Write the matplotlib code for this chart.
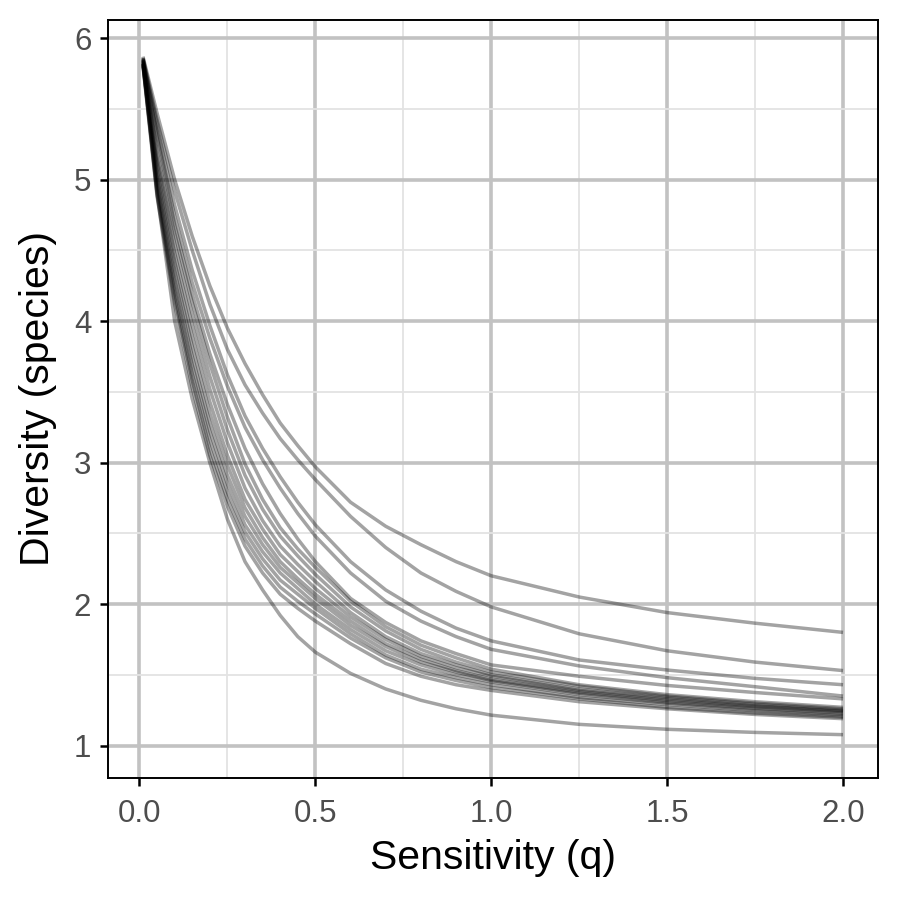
import numpy as np
import matplotlib
matplotlib.use("Agg")
import matplotlib.pyplot as plt
from matplotlib.ticker import MultipleLocator

plt.rcParams['font.family'] = ['Liberation Sans', 'DejaVu Sans']

q = [0.01, 0.05, 0.1, 0.15, 0.2, 0.25, 0.3, 0.35, 0.4, 0.45, 0.5, 0.6, 0.7, 0.8, 0.9, 1.0, 1.25, 1.5, 1.75, 2.0]

# diversity profiles, one per sample
site_a = [5.87, 5.47, 5.00, 4.60, 4.25, 3.95, 3.70, 3.48, 3.28, 3.12, 2.97, 2.72, 2.55, 2.42, 2.30, 2.20, 2.05, 1.94, 1.865, 1.80]
site_b = [5.86, 5.42, 4.92, 4.50, 4.12, 3.80, 3.55, 3.35, 3.17, 3.02, 2.88, 2.62, 2.40, 2.22, 2.09, 1.98, 1.79, 1.67, 1.59, 1.53]
site_c = [5.86, 5.38, 4.82, 4.36, 3.97, 3.62, 3.33, 3.10, 2.90, 2.72, 2.56, 2.30, 2.10, 1.95, 1.83, 1.74, 1.605, 1.534, 1.475, 1.43]
site_d = [5.85, 5.33, 4.74, 4.27, 3.88, 3.54, 3.25, 3.02, 2.82, 2.64, 2.48, 2.22, 2.02, 1.88, 1.77, 1.68, 1.563, 1.48, 1.416, 1.35]
site_e = [5.85, 5.30, 4.68, 4.19, 3.77, 3.41, 3.10, 2.85, 2.64, 2.46, 2.30, 2.04, 1.87, 1.74, 1.65, 1.57, 1.49, 1.425, 1.375, 1.33]
site_f = [5.82, 4.90, 4.00, 3.45, 3.00, 2.60, 2.30, 2.10, 1.92, 1.77, 1.66, 1.51, 1.40, 1.32, 1.26, 1.215, 1.15, 1.115, 1.093, 1.077]
site_g = [5.85, 5.20, 4.62, 4.13, 3.70, 3.32, 2.99, 2.74, 2.54, 2.39, 2.26, 2.02, 1.84, 1.71, 1.62, 1.54, 1.43, 1.36, 1.31, 1.27]
site_h = [5.84, 5.16, 4.55, 4.05, 3.61, 3.23, 2.91, 2.67, 2.48, 2.34, 2.21, 1.98, 1.81, 1.68, 1.59, 1.52, 1.42, 1.35, 1.30, 1.26]
site_i = [5.84, 5.11, 4.48, 3.97, 3.52, 3.14, 2.82, 2.59, 2.41, 2.28, 2.16, 1.94, 1.77, 1.65, 1.57, 1.50, 1.40, 1.34, 1.29, 1.25]
site_j = [5.83, 5.07, 4.42, 3.89, 3.43, 3.05, 2.74, 2.53, 2.35, 2.23, 2.11, 1.91, 1.75, 1.63, 1.55, 1.49, 1.39, 1.33, 1.28, 1.245]
site_k = [5.83, 5.03, 4.36, 3.82, 3.35, 2.98, 2.68, 2.47, 2.30, 2.18, 2.07, 1.88, 1.72, 1.61, 1.53, 1.47, 1.38, 1.32, 1.275, 1.24]
site_l = [5.82, 4.99, 4.30, 3.75, 3.28, 2.91, 2.62, 2.42, 2.26, 2.15, 2.04, 1.85, 1.70, 1.59, 1.52, 1.46, 1.37, 1.31, 1.265, 1.23]
site_m = [5.82, 4.96, 4.25, 3.69, 3.22, 2.85, 2.56, 2.37, 2.22, 2.11, 2.00, 1.82, 1.67, 1.57, 1.50, 1.45, 1.36, 1.30, 1.255, 1.22]
site_n = [5.81, 4.93, 4.20, 3.63, 3.16, 2.79, 2.51, 2.32, 2.17, 2.07, 1.97, 1.79, 1.64, 1.54, 1.48, 1.43, 1.34, 1.29, 1.245, 1.21]
site_o = [5.81, 4.90, 4.16, 3.58, 3.10, 2.74, 2.46, 2.27, 2.12, 2.02, 1.93, 1.76, 1.62, 1.52, 1.46, 1.41, 1.33, 1.27, 1.23, 1.20]
site_p = [5.80, 4.88, 4.12, 3.53, 3.05, 2.69, 2.41, 2.22, 2.07, 1.97, 1.88, 1.72, 1.58, 1.49, 1.43, 1.39, 1.31, 1.26, 1.22, 1.19]

profiles = [site_a, site_b, site_c, site_d, site_e, site_f, site_g, site_h,
            site_i, site_j, site_k, site_l, site_m, site_n, site_o, site_p]

fig, ax = plt.subplots(figsize=(9, 9), dpi=100)
fig.subplots_adjust(left=0.12, right=0.9756, top=0.9778, bottom=0.1356)

for prof in profiles:
    ax.plot(q, prof, color='black', alpha=0.36, lw=2.5, solid_capstyle='butt',
            solid_joinstyle='round')

ax.set_xlim(-0.0895, 2.0995)
ax.set_ylim(0.771, 6.129)
ax.set_xticks([0.0, 0.5, 1.0, 1.5, 2.0])
ax.set_xticklabels(['0.0', '0.5', '1.0', '1.5', '2.0'])
ax.set_yticks([1, 2, 3, 4, 5, 6])
ax.xaxis.set_minor_locator(MultipleLocator(0.25))
ax.yaxis.set_minor_locator(MultipleLocator(0.5))

# grid like the ggplot theme: darker major, light minor
ax.set_axisbelow(True)
ax.grid(which='major', color='#c2c2c2', lw=2.6)
ax.grid(which='minor', color='#e3e3e3', lw=1.3)

for sp in ax.spines.values():
    sp.set_color('black')
    sp.set_linewidth(1.4)

ax.tick_params(which='major', direction='out', length=6, width=1.8, color='black',
               labelsize=22.5, labelcolor='#4d4d4d')
ax.tick_params(axis='x', which='major', pad=9)
ax.tick_params(axis='y', which='major', pad=6)
ax.tick_params(which='minor', length=0)

ax.set_xlabel('Sensitivity (q)', fontsize=29.5, color='black', labelpad=7)
ax.set_ylabel('Diversity (species)', fontsize=29.5, color='black', labelpad=12)

plt.savefig('out.png', dpi=100)
